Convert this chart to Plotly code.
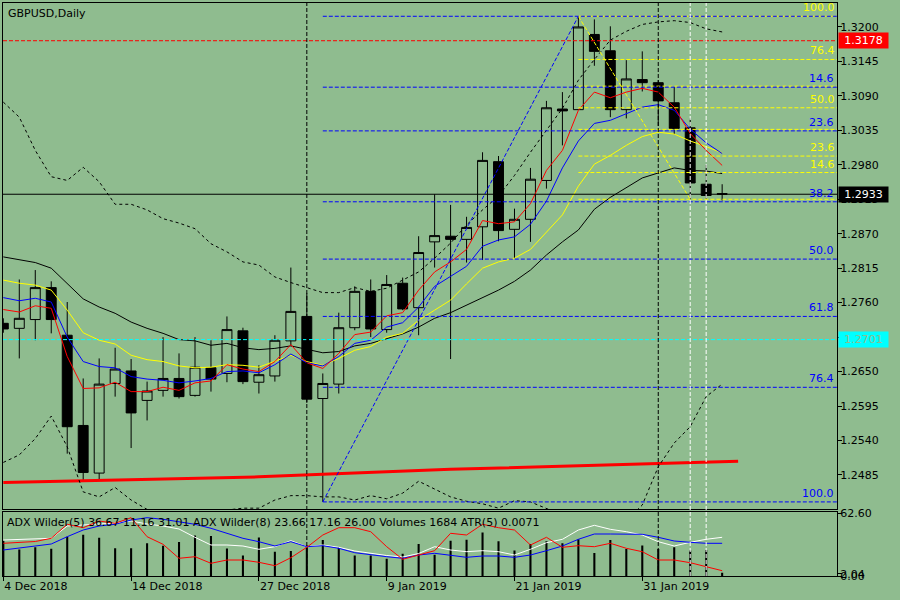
import pandas as pd
import plotly.graph_objects as go

# GBPUSD daily bars (broker calendar, no bars on 25 Dec / 1 Jan)
dates = ['2018-12-04', '2018-12-05', '2018-12-06', '2018-12-07', '2018-12-10', '2018-12-11',
         '2018-12-12', '2018-12-13', '2018-12-14', '2018-12-17', '2018-12-18', '2018-12-19',
         '2018-12-20', '2018-12-21', '2018-12-24', '2018-12-26', '2018-12-27', '2018-12-28',
         '2018-12-31', '2019-01-02', '2019-01-03', '2019-01-04', '2019-01-07', '2019-01-08',
         '2019-01-09', '2019-01-10', '2019-01-11', '2019-01-14', '2019-01-15', '2019-01-16',
         '2019-01-17', '2019-01-18', '2019-01-21', '2019-01-22', '2019-01-23', '2019-01-24',
         '2019-01-25', '2019-01-28', '2019-01-29', '2019-01-30', '2019-01-31', '2019-02-01',
         '2019-02-04', '2019-02-05', '2019-02-06', '2019-02-07']

open_ = [1.2727, 1.2719, 1.2733, 1.2784, 1.2708, 1.2564, 1.2488, 1.2631, 1.2651, 1.2604,
         1.2620, 1.2639, 1.2612, 1.2656, 1.2647, 1.2715, 1.2633, 1.2643, 1.2699, 1.2738,
         1.2607, 1.2630, 1.2720, 1.2778, 1.2717, 1.2791, 1.2752, 1.2857, 1.2866, 1.2861,
         1.2881, 1.2985, 1.2877, 1.2893, 1.2955, 1.3069, 1.3068, 1.3188, 1.3162, 1.3068,
         1.3116, 1.3111, 1.3079, 1.3039, 1.2949, 1.2934]
high = [1.2735, 1.2797, 1.2812, 1.2794, 1.2761, 1.2639, 1.2671, 1.2688, 1.2670, 1.2634,
        1.2705, 1.2679, 1.2705, 1.2700, 1.2738, 1.2720, 1.2660, 1.2708, 1.2816, 1.2775,
        1.2647, 1.2744, 1.2786, 1.2797, 1.2804, 1.2800, 1.2866, 1.2933, 1.2916, 1.2897,
        1.3000, 1.2994, 1.2910, 1.2975, 1.3082, 1.3096, 1.3217, 1.3212, 1.3201, 1.3147,
        1.3161, 1.3115, 1.3104, 1.3054, 1.2980, 1.2949]
low = [1.2712, 1.2671, 1.2700, 1.2711, 1.2519, 1.2477, 1.2477, 1.2610, 1.2528, 1.2572,
       1.2610, 1.2607, 1.2610, 1.2618, 1.2633, 1.2630, 1.2615, 1.2634, 1.2692, 1.2600,
       1.2442, 1.2615, 1.2716, 1.2705, 1.2712, 1.2748, 1.2708, 1.2816, 1.2670, 1.2824,
       1.2828, 1.2858, 1.2831, 1.2857, 1.2942, 1.3011, 1.3068, 1.3138, 1.3056, 1.3054,
       1.3097, 1.3042, 1.3029, 1.2925, 1.2926, 1.2923]
close = [1.2718, 1.2735, 1.2784, 1.2733, 1.2562, 1.2489, 1.2630, 1.2654, 1.2584, 1.2619,
         1.2639, 1.2610, 1.2657, 1.2638, 1.2717, 1.2634, 1.2645, 1.2700, 1.2746, 1.2606,
         1.2631, 1.2720, 1.2778, 1.2718, 1.2789, 1.2750, 1.2840, 1.2867, 1.2861, 1.2880,
         1.2987, 1.2875, 1.2893, 1.2957, 1.3071, 1.3066, 1.3200, 1.3161, 1.3068, 1.3117,
         1.3111, 1.3082, 1.3038, 1.2951, 1.2931, 1.2933]

# moving averages on the price pane
ma_red = [1.2749, 1.2745, 1.2755, 1.2751, 1.2674, 1.2623, 1.2624, 1.2633, 1.2618, 1.2618,
          1.2625, 1.2620, 1.2632, 1.2635, 1.2661, 1.2654, 1.2650, 1.2666, 1.2693, 1.2664,
          1.2655, 1.2679, 1.2709, 1.2713, 1.2739, 1.2744, 1.2780, 1.2809, 1.2825, 1.2845,
          1.2891, 1.2886, 1.2889, 1.2918, 1.2971, 1.3003, 1.3067, 1.3096, 1.3087, 1.3096,
          1.3102, 1.3096, 1.3072, 1.3030, 1.3003, 1.2979]
ma_blue = [1.2768, 1.2763, 1.2767, 1.2761, 1.2705, 1.2666, 1.2658, 1.2656, 1.2642, 1.2638,
           1.2636, 1.2632, 1.2635, 1.2639, 1.2650, 1.2651, 1.2648, 1.2661, 1.2678, 1.2664,
           1.2659, 1.2674, 1.2695, 1.2700, 1.2721, 1.2728, 1.2753, 1.2786, 1.2802, 1.2818,
           1.2850, 1.2860, 1.2865, 1.2885, 1.2922, 1.2975, 1.3018, 1.3046, 1.3051, 1.3061,
           1.3072, 1.3076, 1.3067, 1.3037, 1.3015, 1.2998]
ma_yellow = [1.2796, 1.2791, 1.2788, 1.2780, 1.2748, 1.2712, 1.2700, 1.2694, 1.2676, 1.2669,
             1.2666, 1.2659, 1.2656, 1.2657, 1.2661, 1.2660, 1.2657, 1.2666, 1.2676, 1.2666,
             1.2660, 1.2671, 1.2684, 1.2690, 1.2705, 1.2711, 1.2732, 1.2748, 1.2764, 1.2790,
             1.2815, 1.2825, 1.2831, 1.2845, 1.2873, 1.2900, 1.2946, 1.2981, 1.2995, 1.3011,
             1.3025, 1.3032, 1.3029, 1.3018, 1.3009, 1.2999]
ma_black = [1.2833, 1.2829, 1.2824, 1.2815, 1.2791, 1.2766, 1.2753, 1.2743, 1.2729, 1.2719,
            1.2711, 1.2701, 1.2699, 1.2692, 1.2695, 1.2688, 1.2685, 1.2687, 1.2691, 1.2685,
            1.2680, 1.2682, 1.2691, 1.2695, 1.2703, 1.2710, 1.2721, 1.2735, 1.2744, 1.2756,
            1.2767, 1.2780, 1.2794, 1.2812, 1.2836, 1.2857, 1.2876, 1.2909, 1.2928, 1.2944,
            1.2959, 1.2967, 1.2975, 1.2971, 1.2970, 1.2966]
band_upper = [1.3080, 1.3056, 1.3003, 1.2961, 1.2955, 1.2976, 1.2953, 1.2917, 1.2917, 1.2908,
              1.2894, 1.2887, 1.2878, 1.2854, 1.2841, 1.2825, 1.2820, 1.2801, 1.2792, 1.2784,
              1.2776, 1.2776, 1.2784, 1.2778, 1.2783, 1.2796, 1.2809, 1.2831, 1.2855, 1.2884,
              1.2908, 1.2930, 1.2963, 1.3000, 1.3034, 1.3070, 1.3115, 1.3148, 1.3179, 1.3193,
              1.3204, 1.3208, 1.3210, 1.3207, 1.3197, 1.3192]
band_lower = [1.2505, 1.2517, 1.2543, 1.2579, 1.2530, 1.2458, 1.2450, 1.2465, 1.2445, 1.2430,
              1.2421, 1.2416, 1.2420, 1.2423, 1.2429, 1.2432, 1.2432, 1.2445, 1.2452, 1.2452,
              1.2450, 1.2450, 1.2445, 1.2452, 1.2447, 1.2456, 1.2475, 1.2462, 1.2450, 1.2443,
              1.2439, 1.2432, 1.2444, 1.2442, 1.2432, 1.2421, 1.2405, 1.2397, 1.2400, 1.2413,
              1.2437, 1.2498, 1.2536, 1.2562, 1.2610, 1.2630]
long_ma_idx = [0, 16, 28, 46]
long_ma = [1.2473, 1.2482, 1.2494, 1.2507]

# sub window: ADX Wilder lines and tick volumes
adx_white = [36.0, 36.5, 37.0, 37.7, 50.0, 51.0, 52.0, 53.0, 55.0, 52.0,
             50.0, 47.0, 38.7, 31.0, 31.0, 30.0, 26.7, 29.3, 35.3, 29.3,
             31.0, 28.7, 25.0, 22.5, 20.5, 19.0, 22.5, 29.3, 26.0, 24.3,
             25.3, 24.3, 21.0, 26.7, 33.3, 36.7, 46.0, 50.7, 46.7, 44.3,
             41.0, 34.3, 30.0, 33.7, 36.7, 38.7]
adx_blue = [26.0, 28.0, 30.0, 32.0, 39.3, 46.0, 50.0, 51.7, 56.0, 58.3,
            56.7, 54.3, 51.7, 47.7, 42.7, 37.7, 34.3, 30.0, 34.3, 29.3,
            30.3, 27.7, 23.3, 21.0, 19.3, 17.7, 21.0, 22.7, 20.7, 18.7,
            20.0, 20.0, 18.7, 21.0, 25.3, 30.0, 36.7, 42.0, 42.0, 42.0,
            41.7, 38.7, 35.0, 33.7, 32.7, 32.7]
adx_red = [32.7, 33.5, 34.5, 37.7, 51.7, 48.3, 55.0, 52.7, 58.3, 39.3,
           31.7, 17.7, 19.3, 12.7, 16.0, 16.0, 13.7, 10.3, 18.3, 28.7,
           41.0, 48.3, 48.3, 44.3, 29.3, 16.7, 21.0, 25.3, 42.7, 41.0,
           51.7, 48.3, 46.0, 31.0, 38.7, 28.7, 30.3, 29.3, 32.7, 27.7,
           24.3, 16.0, 16.0, 13.3, 9.3, 5.3]
volumes = [18000, 13500, 14700, 13900, 20000, 21100, 19500, 14200, 14200, 16700,
           15400, 17400, 20600, 20400, 14000, 10400, 19700, 12400, 12800, 15500,
           18300, 14700, 10500, 10500, 8800, 11300, 16300, 10800, 18000, 18500,
           22200, 17700, 13000, 16300, 17700, 16700, 18800, 11700, 18300, 13800,
           15500, 13800, 14700, 13000, 13300, 1684]

# chart objects
fib_blue = {'start': '2019-01-03', 'p0': 1.2442, 'end': '2019-01-25', 'p1': 1.3217}
fib_yellow = {'start': '2019-01-25', 'p0': 1.3217, 'end': '2019-02-05', 'p1': 1.2925}
fib_blue_levels = [0.0, 0.146, 0.236, 0.382, 0.5, 0.618, 0.764, 1.0]
fib_yellow_levels = [0.0, 0.146, 0.236, 0.382, 0.5, 0.618, 0.764, 1.0]
fib_yellow_labelled = [0.146, 0.236, 0.5, 0.764, 1.0]
vlines_black = ['2019-01-02', '2019-02-01']
vlines_white = ['2019-02-05', '2019-02-06']
hline_red = 1.3178
hline_cyan = 1.2701
bid = 1.2933

BG = '#8FBC8F'
FONT = 'DejaVu Sans'
x = list(range(len(dates)))
idx = {d: i for i, d in enumerate(dates)}
x_left, x_right = -0.02, 52.19
y_min, y_max = 1.24302, 1.32382

fig = go.Figure()

fig.add_trace(go.Candlestick(
    x=x, open=open_, high=high, low=low, close=close,
    increasing=dict(line=dict(color='black', width=1), fillcolor=BG),
    decreasing=dict(line=dict(color='black', width=1), fillcolor='black'),
    whiskerwidth=0, hoverinfo='skip', xaxis='x', yaxis='y'))

fig.add_trace(go.Scatter(x=long_ma_idx, y=long_ma, mode='lines',
                         line=dict(color='#FF0000', width=3)))
for band in (band_upper, band_lower):
    fig.add_trace(go.Scatter(x=x, y=band, mode='lines',
                             line=dict(color='black', width=1, dash='3px,3px')))
for series, col in ((ma_black, 'black'), (ma_yellow, '#FFFF00'),
                    (ma_blue, '#0000FF'), (ma_red, '#FF0000')):
    fig.add_trace(go.Scatter(x=x, y=series, mode='lines', line=dict(color=col, width=1)))

# fibonacci retracements: blue measured down from the high, yellow up from the low
blue_rng = fib_blue['p1'] - fib_blue['p0']
yellow_rng = fib_yellow['p0'] - fib_yellow['p1']
blue_lines = [(f, fib_blue['p1'] - f * blue_rng) for f in fib_blue_levels]
yellow_lines = [(f, fib_yellow['p1'] + f * yellow_rng) for f in fib_yellow_levels]

for fib, col in ((fib_blue, '#0000FF'), (fib_yellow, '#FFFF00')):
    fig.add_trace(go.Scatter(x=[idx[fib['start']], idx[fib['end']]], y=[fib['p0'], fib['p1']],
                             mode='lines', line=dict(color=col, width=1, dash='4px,2px')))
for f, p in yellow_lines:
    fig.add_trace(go.Scatter(x=[idx[fib_yellow['start']], x_right], y=[p, p], mode='lines',
                             line=dict(color='#FFFF00', width=1, dash='4px,2px')))
for f, p in blue_lines:
    fig.add_trace(go.Scatter(x=[idx[fib_blue['start']], x_right], y=[p, p], mode='lines',
                             line=dict(color='#0000FF', width=1, dash='4px,2px')))

# sub window
fig.add_trace(go.Bar(x=x, y=volumes, width=0.13, marker=dict(color='black', line=dict(width=0)),
                     xaxis='x2', yaxis='y2'))
for series, col in ((adx_white, '#FFFFFF'), (adx_blue, '#0000FF'), (adx_red, '#FF0000')):
    fig.add_trace(go.Scatter(x=x, y=series, mode='lines', line=dict(color=col, width=1),
                             xaxis='x2', yaxis='y3'))

shapes = []
for p, col, dash in ((hline_red, '#FF0000', '4px,2px'), (hline_cyan, '#00FFFF', '4px,2px'),
                     (bid, 'black', 'solid')):
    shapes.append(dict(type='line', xref='x domain', x0=0, x1=1, yref='y', y0=p, y1=p,
                       line=dict(color=col, width=1, dash=dash)))
for d in vlines_black:
    shapes.append(dict(type='line', xref='x', x0=idx[d], x1=idx[d], yref='paper', y0=0, y1=1,
                       line=dict(color='black', width=1, dash='4px,2px')))
for d in vlines_white:
    shapes.append(dict(type='line', xref='x', x0=idx[d], x1=idx[d], yref='paper', y0=0, y1=1,
                       line=dict(color='#FFFFFF', width=1, dash='4px,2px')))

annotations = [
    dict(text='GBPUSD,Daily', xref='paper', x=0, xanchor='left', xshift=3,
         yref='paper', y=1, yanchor='top', yshift=-2, showarrow=False,
         font=dict(color='black', size=11)),
    dict(text='ADX Wilder(5) 36.67 11.16 31.01 ADX Wilder(8) 23.66 17.16 26.00 Volumes 1684 ATR(5) 0.0071',
         xref='paper', x=0, xanchor='left', xshift=2, yref='y2 domain', y=1, yanchor='top',
         yshift=-2, showarrow=False, font=dict(color='black', size=11)),
]
for f, p in yellow_lines:
    if f in fib_yellow_labelled:
        annotations.append(dict(text=f'{f * 100:.1f}', xref='x domain', x=1, xanchor='right',
                                xshift=0, yref='y', y=p, yanchor='bottom', yshift=0,
                                showarrow=False, font=dict(color='#FFFF00', size=11)))
for f, p in blue_lines:
    if f > 0:
        annotations.append(dict(text=f'{f * 100:.1f}', xref='x domain', x=1, xanchor='right',
                                xshift=-1, yref='y', y=p, yanchor='bottom', yshift=0,
                                showarrow=False, font=dict(color='#0000FF', size=11)))
for p, bg, fg in ((hline_red, '#FF0000', '#FFFFFF'), (bid, 'black', '#FFFFFF'),
                  (hline_cyan, '#00FFFF', BG)):
    annotations.append(dict(text=f'{p:.4f}', xref='paper', x=1, xanchor='left', xshift=1,
                            yref='y', y=p, yanchor='middle', showarrow=False, bgcolor=bg,
                            borderpad=1, width=47, align='center', font=dict(color=fg, size=11)))

price_ticks = [round(1.2485 + 0.0055 * k, 4) for k in range(14)]
tick_idx = list(range(0, len(dates), 8))
tick_txt = [f"{pd.Timestamp(dates[i]).day} {pd.Timestamp(dates[i]).strftime('%b %Y')}" for i in tick_idx]

sub_top = (576 - 511.5) / 573
main_bottom = (576 - 509.3) / 573
axis_common = dict(showgrid=False, zeroline=False, showline=True, linecolor='black',
                   linewidth=1, mirror=True)

fig.update_layout(
    width=900, height=600,
    margin=dict(l=3, r=63, t=3, b=24, autoexpand=False),
    paper_bgcolor=BG, plot_bgcolor=BG,
    font=dict(family=FONT, size=11, color='black'),
    showlegend=False,
    boxgap=0.38, boxgroupgap=0,
    shapes=shapes, annotations=annotations,
    xaxis=dict(domain=[0, 1], range=[x_left, x_right], anchor='y', showticklabels=False,
               ticks='', rangeslider=dict(visible=False), **axis_common),
    yaxis=dict(domain=[main_bottom, 1], range=[y_min, y_max], side='right', anchor='x',
               tickvals=price_ticks, ticktext=[f'{v:.4f}' for v in price_ticks],
               ticks='outside', ticklen=4, tickcolor='black', ticklabelstandoff=-4,
               **axis_common),
    xaxis2=dict(domain=[0, 1], range=[x_left, x_right], anchor='y2', matches='x',
                tickvals=tick_idx, ticktext=tick_txt, ticks='outside', ticklen=4,
                tickcolor='black', ticklabelposition='outside right', **axis_common),
    yaxis2=dict(domain=[0, sub_top], range=[0, 32900], anchor='x2', showticklabels=False,
                ticks='', **axis_common),
    yaxis3=dict(overlaying='y2', anchor='x2', side='right', range=[0, 64.5],
                tickvals=[0, 2.04, 62.6], ticktext=['0.00', '2.04', '62.60'],
                ticks='outside', ticklen=4, tickcolor='black', ticklabelstandoff=-4,
                showgrid=False, zeroline=False, showline=False),
)

# the page body has a default 8px margin; drop it so the 900x600 figure fills the window
fig.write_html("out.html", config={'displayModeBar': False},
               post_script="document.body.style.margin='0px';")
